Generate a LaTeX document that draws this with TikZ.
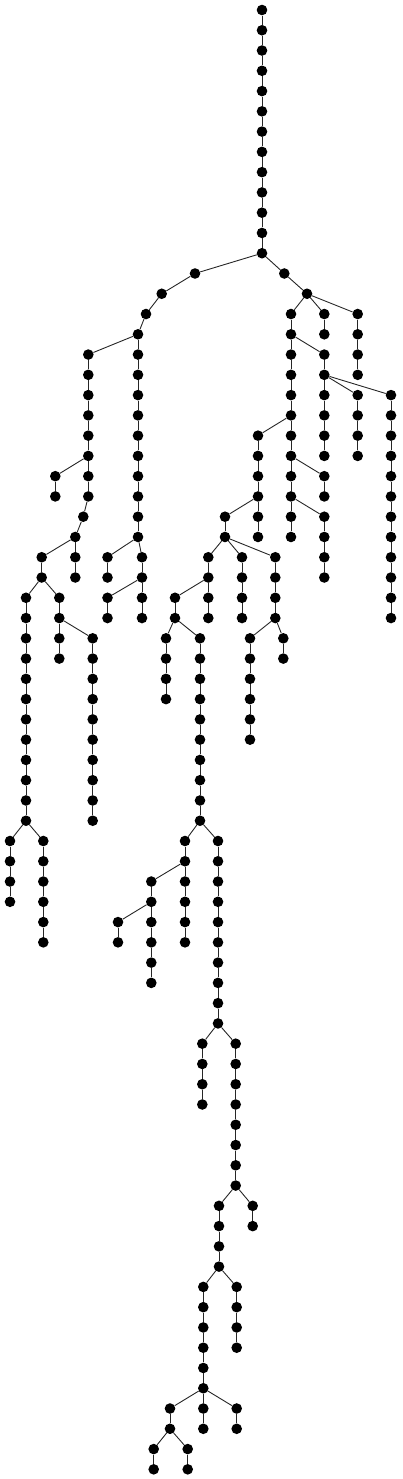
\documentclass[tikz,border=0pt]{standalone}
\tikzset{
  dot/.style={circle,fill=black,inner sep=0pt,minimum size=10.6pt},
  edge/.style={line width=0.9pt,draw=black!85}
}
\newcommand\mychain[5]{%
  \foreach \r in {#3,...,#4}{%
    \node[dot] (#1-\r) at (#2,\r) {};
    \ifnum\r=#3\relax
      \draw[edge] (#5) -- (#1-\r);
    \else
      \pgfmathtruncatemacro\p{\r-1}%
      \draw[edge] (#1-\p) -- (#1-\r);
    \fi
  }%
}
\begin{document}
\begin{tikzpicture}[x=1pt,y=-20.268pt]
\useasboundingbox (0,-0.4934) rectangle (402,72.478);
% trunk
\foreach \r in {0,...,12}{%
  \node[dot] (t-\r) at (262,\r) {};
  \ifnum\r>0\relax
    \pgfmathtruncatemacro\p{\r-1}%
    \draw[edge] (t-\p) -- (t-\r);
  \fi
}
% left subtree
\mychain{La}{195}{13}{13}{t-12}
\mychain{Lb}{161.7}{14}{14}{La-13}
\mychain{Lc}{146}{15}{15}{Lb-14}
\mychain{Ld}{138}{16}{26}{Lc-15}
\mychain{Le}{107.5}{27}{28}{Ld-26}
\mychain{Lf}{142}{27}{28}{Ld-26}
\mychain{Lg}{107.5}{29}{30}{Lf-28}
\mychain{Lh}{142}{29}{30}{Lf-28}
\mychain{Li}{88.3}{17}{24}{Ld-16}
\mychain{Lj}{55.3}{23}{24}{Li-22}
\mychain{Lk}{83.3}{25}{25}{Li-24}
\mychain{Ll}{75.3}{26}{28}{Lk-25}
\mychain{Lm}{41.7}{27}{28}{Ll-26}
\mychain{Ln}{26}{29}{40}{Lm-28}
\mychain{Lo}{59.3}{29}{32}{Lm-28}
\mychain{Lp}{92.7}{31}{40}{Lo-30}
\mychain{Lq}{10}{41}{44}{Ln-40}
\mychain{Lr}{43.3}{41}{46}{Ln-40}
% right subtree
\mychain{Ra}{284.3}{13}{13}{t-12}
\mychain{Rb}{307}{14}{14}{Ra-13}
\mychain{Rc}{291}{15}{26}{Rb-14}
\mychain{Rd}{324.3}{15}{16}{Rb-14}
\mychain{Re}{357.7}{15}{18}{Rb-14}
\mychain{Rf}{324.3}{17}{18}{Rc-16}
\mychain{Rg}{324.3}{19}{22}{Rf-18}
\mychain{Rh}{357.7}{19}{22}{Rf-18}
\mychain{Ri}{391}{19}{30}{Rf-18}
\mychain{Rj}{258}{21}{26}{Rc-20}
\mychain{Rk}{324.3}{23}{24}{Rc-22}
\mychain{Rl}{324.3}{25}{28}{Rc-24}
\mychain{Rm}{225}{25}{26}{Rj-24}
\mychain{Rn}{208.3}{27}{28}{Rm-26}
\mychain{Ro}{242}{27}{30}{Rm-26}
\mychain{Rp}{275.3}{27}{30}{Rm-26}
\mychain{Rq}{175}{29}{30}{Rn-28}
\mychain{Rr}{208.3}{29}{30}{Rn-28}
\mychain{Rs}{250}{31}{36}{Rp-30}
\mychain{Rt}{283.3}{31}{32}{Rp-30}
\mychain{Ru}{166}{31}{34}{Rq-30}
\mychain{Rv}{200}{31}{40}{Rq-30}
\mychain{Rw}{185}{41}{42}{Rv-40}
\mychain{Rx}{218}{41}{50}{Rv-40}
\mychain{Ry}{151.3}{43}{44}{Rw-42}
\mychain{Rz}{185}{43}{46}{Rw-42}
\mychain{Sa}{118}{45}{46}{Ry-44}
\mychain{Sb}{151.3}{45}{48}{Ry-44}
\mychain{Sc}{202.3}{51}{54}{Rx-50}
\mychain{Sd}{235.7}{51}{58}{Rx-50}
\mychain{Se}{219}{59}{62}{Sd-58}
\mychain{Sf}{252.7}{59}{60}{Sd-58}
\mychain{Sg}{203.3}{63}{68}{Se-62}
\mychain{Sh}{236.7}{63}{66}{Se-62}
\mychain{Si}{170}{69}{70}{Sg-68}
\mychain{Sj}{203.3}{69}{70}{Sg-68}
\mychain{Sk}{236.7}{69}{70}{Sg-68}
\mychain{Sl}{153.7}{71}{72}{Si-70}
\mychain{Sm}{187.7}{71}{72}{Si-70}
\end{tikzpicture}
\end{document}
